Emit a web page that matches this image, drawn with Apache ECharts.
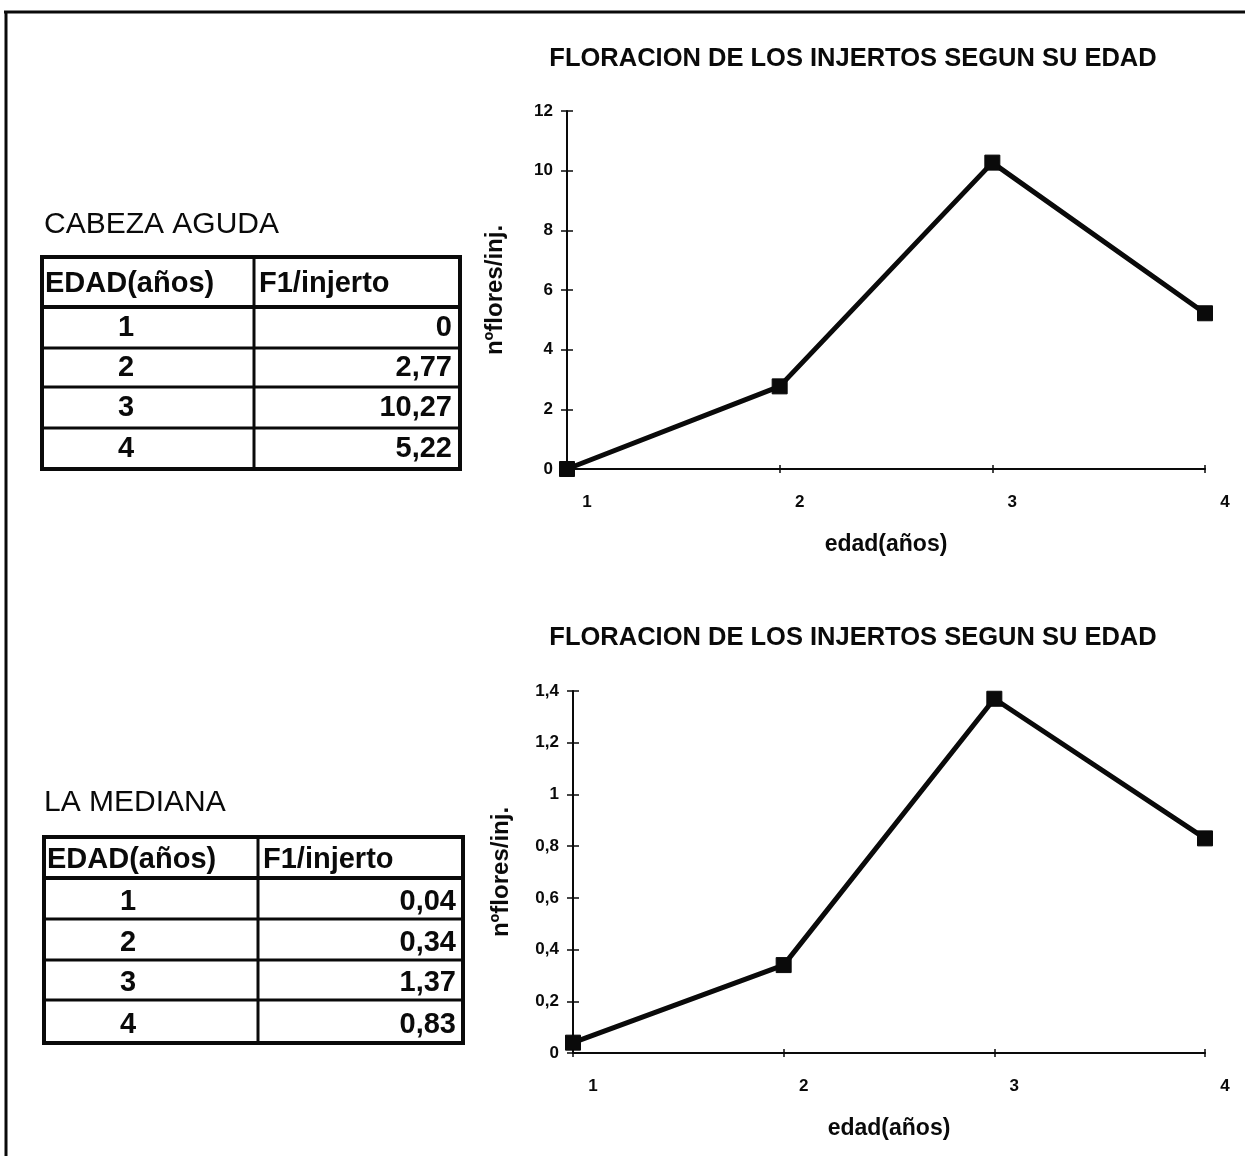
<!DOCTYPE html>
<html>
<head>
<meta charset="utf-8">
<title>Floración de los injertos según su edad</title>
<script src="https://cdn.jsdelivr.net/npm/echarts@6/dist/echarts.min.js"></script>
<style>
  html, body { margin: 0; padding: 0; background: #fff; }
  #chart { width: 1245px; height: 1156px; }
</style>
</head>
<body>
<div id="chart"></div>
<script>
// Edad de los injertos (años)
const ages = ['1', '2', '3', '4'];
// Flores por injerto, variedad "Cabeza aguda"
const cabezaAguda = [0, 2.77, 10.27, 5.22];
// Flores por injerto, variedad "La mediana"
const laMediana = [0.04, 0.34, 1.37, 0.83];
// Textos
const chartTitle = 'FLORACION DE LOS INJERTOS SEGUN SU EDAD';
const tableHeader = ['EDAD(años)', 'F1/injerto'];
const xName = 'edad(años)';
const yName = 'nºflores/inj.';
const groupNames = ['CABEZA AGUDA', 'LA MEDIANA'];
// Escalas de los ejes y
const yTop = [12, 1.4];
const yStep = [2, 0.2];

const SANS = '"Liberation Sans", Arial, sans-serif';
const INK = '#0a0a0a';

// Números con coma decimal
function comma(v) {
  const r = Math.round(v * 100) / 100;
  return String(r).replace('.', ',');
}

// Tabla de datos dibujada con elementos gráficos
function tableGraphic(box, values) {
  const els = [];
  const { left, right, split, rows, numX, valX, dy } = box;
  const top = rows[0], bottom = rows[rows.length - 1];
  // marco exterior
  els.push({ type: 'rect', shape: { x: left, y: top, width: right - left, height: bottom - top },
    style: { fill: 'none', stroke: INK, lineWidth: 4 } });
  // divisiones de filas
  for (let i = 1; i < rows.length - 1; i++) {
    els.push({ type: 'line', shape: { x1: left, y1: rows[i], x2: right, y2: rows[i] },
      style: { stroke: INK, lineWidth: i === 1 ? 4 : 3 } });
  }
  // división de columnas
  els.push({ type: 'line', shape: { x1: split, y1: top, x2: split, y2: bottom },
    style: { stroke: INK, lineWidth: 3 } });
  // cabecera
  const hy = (rows[0] + rows[1]) / 2 + 2;
  els.push({ type: 'text', style: { text: tableHeader[0], x: left + 3, y: hy, textAlign: 'left', textVerticalAlign: 'middle',
    font: 'bold 29px ' + SANS, fill: INK } });
  els.push({ type: 'text', style: { text: tableHeader[1], x: split + 5, y: hy, textAlign: 'left', textVerticalAlign: 'middle',
    font: 'bold 29px ' + SANS, fill: INK } });
  // filas de datos
  values.forEach((v, i) => {
    const cy = (rows[i + 1] + rows[i + 2]) / 2 + dy;
    els.push({ type: 'text', style: { text: ages[i], x: numX, y: cy, textAlign: 'center', textVerticalAlign: 'middle',
      font: 'bold 29px ' + SANS, fill: INK } });
    els.push({ type: 'text', style: { text: comma(v), x: valX, y: cy, textAlign: 'right', textVerticalAlign: 'middle',
      font: 'bold 29px ' + SANS, fill: INK } });
  });
  return els;
}

const grids = [
  { left: 567, top: 111, width: 638, height: 358 },
  { left: 573, top: 691, width: 632, height: 362 }
];

const xAxes = [], yAxes = [], series = [];
[cabezaAguda, laMediana].forEach((vals, g) => {
  // eje x principal
  xAxes.push({
    type: 'category', gridIndex: g, data: ages, boundaryGap: false,
    name: xName, nameLocation: 'middle', nameGap: 64,
    nameTextStyle: { fontFamily: SANS, fontWeight: 'bold', fontSize: 23, color: INK },
    axisLine: { lineStyle: { color: INK, width: 2 } },
    axisTick: { show: true, length: 4, lineStyle: { color: INK, width: 1.5 } },
    axisLabel: { margin: 25, padding: [0, 0, 0, 40], fontFamily: SANS, fontWeight: 'bold', fontSize: 17, color: INK },
    splitLine: { show: false }
  });
  // marcas interiores del eje x
  xAxes.push({
    type: 'category', gridIndex: g, data: ages, boundaryGap: false, position: 'bottom',
    axisLine: { show: false },
    axisTick: { show: true, inside: true, length: 4, lineStyle: { color: INK, width: 1.5 } },
    axisLabel: { show: false }, splitLine: { show: false }
  });
  // eje y principal
  yAxes.push({
    type: 'value', gridIndex: g, min: 0, max: yTop[g], interval: yStep[g],
    name: yName, nameLocation: 'middle', nameGap: 60, nameRotate: 90,
    nameTextStyle: { fontFamily: SANS, fontWeight: 'bold', fontSize: 24, color: INK },
    axisLine: { show: true, lineStyle: { color: INK, width: 2 } },
    axisTick: { show: true, length: 6, lineStyle: { color: INK, width: 1.5 } },
    axisLabel: { margin: 14, fontFamily: SANS, fontWeight: 'bold', fontSize: 17, color: INK, formatter: comma },
    splitLine: { show: false }
  });
  // marcas interiores del eje y
  yAxes.push({
    type: 'value', gridIndex: g, min: 0, max: yTop[g], interval: yStep[g], position: 'left',
    axisLine: { show: false },
    axisTick: { show: true, inside: true, length: 6, lineStyle: { color: INK, width: 1.5 } },
    axisLabel: { show: false }, splitLine: { show: false }
  });
  series.push({
    type: 'line', xAxisIndex: g * 2, yAxisIndex: g * 2, data: vals,
    symbol: 'rect', symbolSize: 15, showAllSymbol: true,
    lineStyle: { color: INK, width: 5 },
    itemStyle: { color: INK, borderColor: INK },
    emphasis: { disabled: true }, animation: false, z: 3
  });
});

const titleStyle = { fontFamily: SANS, fontWeight: 'bold', fontSize: 25.5, color: INK };

const graphic = [
  // marco de la hoja
  { type: 'line', shape: { x1: 4, y1: 12, x2: 1245, y2: 12 }, style: { stroke: INK, lineWidth: 3 } },
  { type: 'line', shape: { x1: 6, y1: 12, x2: 6, y2: 1156 }, style: { stroke: INK, lineWidth: 3 } },
  // nombres de las variedades
  { type: 'text', style: { text: groupNames[0], x: 44, y: 225, textVerticalAlign: 'middle', font: '30px ' + SANS, fill: INK } },
  { type: 'text', style: { text: groupNames[1], x: 44, y: 803, textVerticalAlign: 'middle', font: '30px ' + SANS, fill: INK } }
].concat(
  tableGraphic({ left: 42, right: 460, split: 254, rows: [257, 307, 348, 387, 428, 469], numX: 126, valX: 452, dy: 0 }, cabezaAguda),
  tableGraphic({ left: 44, right: 463, split: 258, rows: [837, 878, 919, 960, 1000, 1043], numX: 128, valX: 456, dy: 3 }, laMediana)
);

const chart = echarts.init(document.getElementById('chart'), null, { renderer: 'canvas' });
chart.setOption({
  animation: false,
  backgroundColor: '#fff',
  title: [
    { text: chartTitle, left: 848, top: 41, textAlign: 'center', textStyle: titleStyle },
    { text: chartTitle, left: 848, top: 620, textAlign: 'center', textStyle: titleStyle }
  ],
  grid: grids,
  xAxis: xAxes,
  yAxis: yAxes,
  series: series,
  graphic: graphic
});
</script>
</body>
</html>
